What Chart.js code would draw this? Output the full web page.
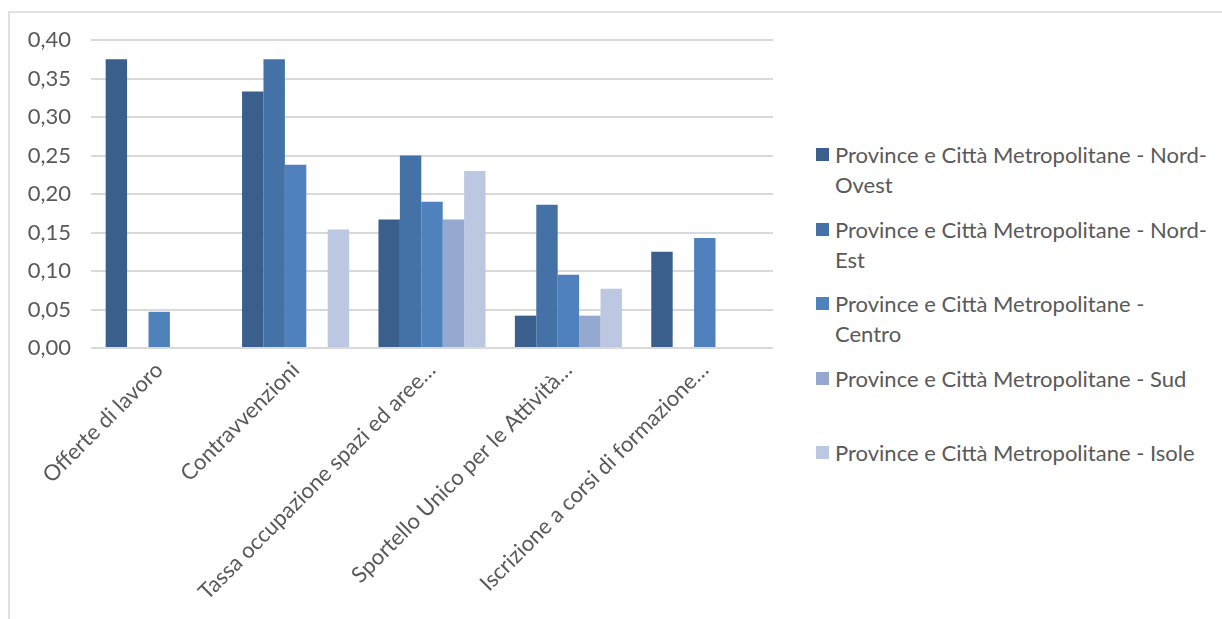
<!DOCTYPE html>
<html>
<head>
<meta charset="utf-8">
<script src="https://cdn.jsdelivr.net/npm/chart.js@4"></script>
<style>
  body { margin: 0; background: #fff; font-family: Lato, sans-serif; }
  #frame { position: absolute; left: 8px; top: 11px; width: 1230px; height: 630px; border: 2px solid #e0e0e0; box-sizing: border-box; }
  #wrap { position: absolute; left: 0; top: 0; width: 790px; height: 619px; }
  #legend { position: absolute; left: 816px; top: 140px; color: #595959; font-size: 22px; line-height: 30px; }
  .item { position: relative; height: 74.5px; padding-left: 19px; }
  .box { position: absolute; left: 0; top: 8px; width: 13px; height: 13px; }
</style>
</head>
<body>
<div id="frame"></div>
<div id="wrap"><canvas id="barChart"></canvas></div>
<div id="legend"></div>
<script>
const categories = [
  "Offerte di lavoro",
  "Contravvenzioni",
  "Tassa occupazione spazi ed aree…",
  "Sportello Unico per le Attività…",
  "Iscrizione a corsi di formazione…",
];
const seriesNames = [
  "Province e Città Metropolitane - Nord-Ovest",
  "Province e Città Metropolitane - Nord-Est",
  "Province e Città Metropolitane - Centro",
  "Province e Città Metropolitane - Sud",
  "Province e Città Metropolitane - Isole",
];
const nordOvest = [0.375, 0.333, 0.167, 0.042, 0.125];
const nordEst = [0, 0.375, 0.25, 0.186, 0];
const centro = [0.047, 0.238, 0.19, 0.095, 0.143];
const sud = [0, 0, 0.167, 0.042, 0];
const isole = [0, 0.154, 0.23, 0.077, 0];
const colors = ["#3a5f8c", "#4472a7", "#4f81bd", "#95a9d0", "#bcc8e1"];

const seriesValues = [nordOvest, nordEst, centro, sud, isole];
const gray = "#595959";

let ctx = document.getElementById("barChart");

let barChart = new Chart(ctx, {
  type: "bar",
  data: {
    labels: categories,
    datasets: seriesValues.map((vals, i) => ({
      label: seriesNames[i],
      data: vals,
      backgroundColor: colors[i],
      borderWidth: 0,
    })),
  },
  options: {
    responsive: true,
    maintainAspectRatio: false,
    animation: false,
    layout: { padding: { top: 40, right: 17, left: 0, bottom: 0 } },
    datasets: { bar: { categoryPercentage: 0.785, barPercentage: 1 } },
    plugins: {
      legend: { display: false },
      tooltip: { enabled: false },
    },
    scales: {
      y: {
        min: 0,
        max: 0.4,
        afterFit: (s) => { s.width = 91; },
        border: { display: false },
        grid: { color: "#d9d9d9", lineWidth: 2, drawTicks: false },
        ticks: {
          stepSize: 0.05,
          padding: 20,
          color: gray,
          font: { family: "Lato", size: 22 },
          callback: (v) => v.toFixed(2).replace(".", ","),
        },
      },
      x: {
        afterFit: (s) => { s.height = 271; },
        border: { display: false },
        grid: { display: false, drawTicks: false },
        ticks: {
          maxRotation: 45,
          minRotation: 45,
          autoSkip: false,
          padding: 9,
          color: gray,
          font: { family: "Lato", size: 22 },
        },
      },
    },
  },
});

// legend beside the chart; width chosen so the long names wrap like the original
let measure = document.createElement("canvas").getContext("2d");
measure.font = "22px Lato";
let textWidth = Math.max(
  measure.measureText("Province e Città Metropolitane - Nord-").width,
  measure.measureText("Province e Città Metropolitane - Isole").width
);
let legend = document.getElementById("legend");
legend.style.width = Math.ceil(textWidth) + 21 + "px";
barChart.data.datasets.forEach((ds) => {
  let item = document.createElement("div");
  item.className = "item";
  let box = document.createElement("span");
  box.className = "box";
  box.style.background = ds.backgroundColor;
  item.appendChild(box);
  item.appendChild(document.createTextNode(ds.label));
  legend.appendChild(item);
});
</script>
</body>
</html>
